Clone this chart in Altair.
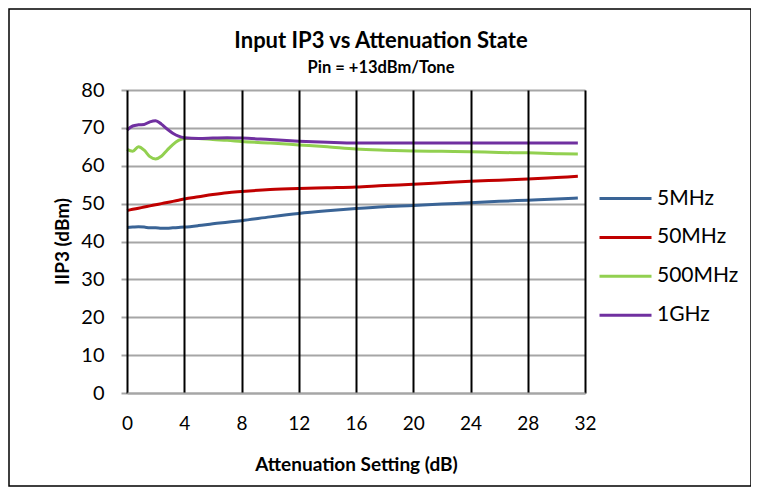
import altair as alt
import pandas as pd

atten = [0, 0.4, 0.8, 1.2, 1.6, 2.0, 2.4, 2.8, 3.2, 3.6, 4, 5, 6, 7, 8, 10, 12,
         14, 16, 18, 20, 22, 24, 26, 28, 30, 31.5]

iip3_5mhz = [43.7, 43.8, 43.9, 43.8, 43.6, 43.6, 43.5, 43.5, 43.6, 43.7, 43.8,
             44.2, 44.7, 45.1, 45.5, 46.5, 47.4, 48.1, 48.7, 49.2, 49.5, 49.9,
             50.2, 50.6, 50.9, 51.2, 51.5]
iip3_50mhz = [48.2, 48.5, 48.8, 49.1, 49.4, 49.7, 50.0, 50.3, 50.6, 50.9, 51.2,
              51.8, 52.4, 52.9, 53.2, 53.7, 54.0, 54.2, 54.4, 54.8, 55.1, 55.5,
              55.9, 56.2, 56.5, 56.9, 57.2]
iip3_500mhz = [64.3, 63.8, 65.0, 64.1, 62.4, 61.8, 62.5, 64.1, 65.6, 66.7, 67.2,
               67.2, 66.9, 66.7, 66.4, 66.0, 65.5, 65.0, 64.4, 64.1, 63.9, 63.8,
               63.7, 63.5, 63.4, 63.2, 63.1]
iip3_1ghz = [69.4, 70.5, 70.8, 70.9, 71.6, 71.9, 71.0, 69.7, 68.6, 67.8, 67.4,
             67.2, 67.3, 67.4, 67.3, 66.9, 66.5, 66.2, 66.0, 66.0, 66.0, 66.0,
             66.0, 66.0, 66.0, 66.0, 66.0]

series_names = ["5MHz", "50MHz", "500MHz", "1GHz"]
series_colors = ["#3A6496", "#C00000", "#92D050", "#7030A0"]
x_ticks = [0, 4, 8, 12, 16, 20, 24, 28, 32]
y_ticks = [0, 10, 20, 30, 40, 50, 60, 70, 80]
title_text = "Input IP3 vs Attenuation State"
subtitle_text = "Pin = +13dBm/Tone"

rows = []
for name, vals in zip(series_names, [iip3_5mhz, iip3_50mhz, iip3_500mhz, iip3_1ghz]):
    for i, (a, v) in enumerate(zip(atten, vals)):
        rows.append({"atten": a, "iip3": v, "series": name, "idx": i})
df = pd.DataFrame(rows)

FONT = "Lato"

lines = alt.Chart(df).mark_line(strokeWidth=3, interpolate="monotone").encode(
    x=alt.X("atten:Q", scale=alt.Scale(domain=[0, 32], nice=False),
            axis=alt.Axis(values=x_ticks, title="Attenuation Setting (dB)",
                          grid=True, gridColor="#000000", gridWidth=2,
                          domainColor="#A6A6A6", domainWidth=2,
                          ticks=False, labelPadding=21, labelFontSize=19,
                          labelFlush=False, labelFont=FONT, labelColor="#000000",
                          titleFont=FONT, titleFontSize=19, titleFontWeight="bold",
                          titleColor="#000000", titlePadding=22, zindex=1)),
    y=alt.Y("iip3:Q", scale=alt.Scale(domain=[0, 80], nice=False),
            axis=alt.Axis(values=y_ticks, title="IIP3 (dBm)",
                          grid=True, gridColor="#A6A6A6", gridWidth=2,
                          domain=False, ticks=True, tickColor="#A6A6A6",
                          tickWidth=2, tickSize=6, labelPadding=17,
                          labelFontSize=20, labelFont=FONT, labelColor="#000000",
                          titleFont=FONT, titleFontSize=19, titleFontWeight="bold",
                          titleColor="#000000", titleX=-65, titleY=151,
                          titleAngle=270, titleAlign="center",
                          titleBaseline="middle")),
    color=alt.Color("series:N", sort=series_names,
                    scale=alt.Scale(domain=series_names, range=series_colors),
                    legend=alt.Legend(title=None, orient="none", legendX=484,
                                      legendY=94, symbolType="M-2,0H2",
                                      symbolSize=676, symbolStrokeWidth=3,
                                      labelOffset=17, rowPadding=13.9,
                                      labelFontSize=21, labelFont=FONT,
                                      labelColor="#000000", padding=0)),
    order=alt.Order("idx:Q"),
)

frame = alt.Chart(pd.DataFrame({"a": [0]})).mark_rect(
    fill=None, stroke="#000000", strokeWidth=1.5
).encode(x=alt.value(-118), x2=alt.value(624), y=alt.value(-81), y2=alt.value(396))

title_mark = alt.Chart(pd.DataFrame({"t": [title_text]})).mark_text(
    font=FONT, fontSize=22, fontWeight="bold", color="#000000",
    align="center", baseline="middle"
).encode(text="t:N", x=alt.value(254), y=alt.value(-49))

subtitle_mark = alt.Chart(pd.DataFrame({"t": [subtitle_text]})).mark_text(
    font=FONT, fontSize=16.5, fontWeight="bold", color="#000000",
    align="center", baseline="middle"
).encode(text="t:N", x=alt.value(254), y=alt.value(-22))

chart = alt.layer(lines, frame, title_mark, subtitle_mark).properties(
    width=458, height=303,
    padding={"left": 119, "top": 82, "right": 166, "bottom": 96},
    autosize=alt.AutoSizeParams(type="none"),
).configure_view(stroke="#000000", strokeWidth=2).configure(background="#FFFFFF")

chart.save("out.html", embed_options={"renderer": "svg", "actions": False})
